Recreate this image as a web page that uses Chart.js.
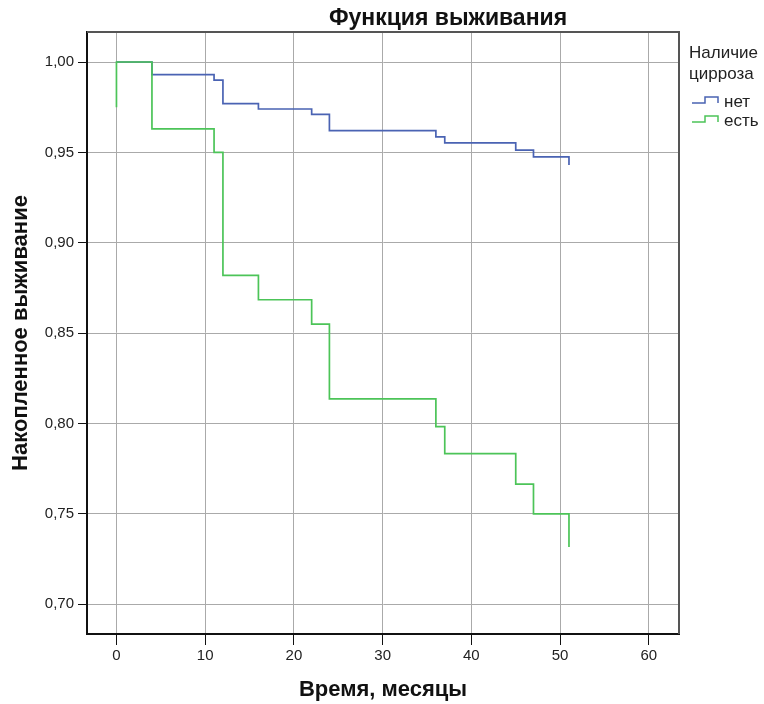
<!DOCTYPE html>
<html><head><meta charset="utf-8">
<script src="https://cdn.jsdelivr.net/npm/chart.js@4"></script>
<style>html,body{margin:0;padding:0;background:#fff}#wrap{width:764px;height:704px}</style>
</head><body><div id="wrap"><canvas id="c" width="764" height="704"></canvas></div>
<script>
// Kaplan–Meier survival, "нет" (no cirrhosis)
const timesNo = [0, 4, 11, 12, 16, 22, 24, 36, 37, 45, 47, 51];
const survNo  = [1.000, 0.993, 0.990, 0.977, 0.974, 0.971, 0.962, 0.9586, 0.9553, 0.9513, 0.9475, 0.943];
// "есть" (cirrhosis present)
const timesYes = [0, 0, 4, 11, 12, 16, 22, 24, 36, 37, 45, 47, 51, 51];
const survYes  = [0.975, 1.000, 0.963, 0.950, 0.882, 0.8685, 0.855, 0.8137, 0.7983, 0.7834, 0.7665, 0.750, 0.750, 0.7317];

const xTicks = [0, 10, 20, 30, 40, 50, 60];
const yTicks = [0.70, 0.75, 0.80, 0.85, 0.90, 0.95, 1.00];
const seriesNames = ['нет', 'есть'];
const legendTitle = ['Наличие', 'цирроза'];
const chartTitle = 'Функция выживания';
const xTitle = 'Время, месяцы';
const yTitle = 'Накопленное выживание';

const BLUE = '#4a63b3';
const GREEN = '#4cc458';
const FONT = "'Liberation Sans', Arial, sans-serif";

const toPts = (xs, ys) => xs.map((x, i) => ({x: x, y: ys[i]}));

const extras = {
  id: 'extras',
  afterDraw(chart) {
    const ctx = chart.ctx;
    const a = chart.chartArea;
    ctx.save();
    // top and right frame
    ctx.strokeStyle = '#555';
    ctx.lineWidth = 2;
    ctx.beginPath();
    ctx.moveTo(a.left, a.top);
    ctx.lineTo(a.right, a.top);
    ctx.lineTo(a.right, a.bottom);
    ctx.stroke();
    // title
    ctx.fillStyle = '#111';
    ctx.font = 'bold 23px ' + FONT;
    ctx.textAlign = 'center';
    ctx.textBaseline = 'alphabetic';
    ctx.fillText(chartTitle, 448, 25);
    // legend
    ctx.font = '17px ' + FONT;
    ctx.textAlign = 'left';
    ctx.fillStyle = '#222';
    ctx.fillText(legendTitle[0], 689, 58);
    ctx.fillText(legendTitle[1], 689, 79);
    const cols = [BLUE, GREEN];
    const ys = [102, 121];
    for (let i = 0; i < 2; i++) {
      const y = ys[i];
      ctx.strokeStyle = cols[i];
      ctx.lineWidth = 1.5;
      ctx.beginPath();
      ctx.moveTo(692, y + 1);
      ctx.lineTo(705, y + 1);
      ctx.lineTo(705, y - 5);
      ctx.lineTo(718, y - 5);
      ctx.lineTo(718, y + 1);
      ctx.stroke();
      ctx.fillStyle = '#222';
      ctx.fillText(seriesNames[i], 724, y + 5);
    }
    ctx.restore();
  }
};

new Chart(document.getElementById('c'), {
  type: 'line',
  data: {
    datasets: [
      { label: seriesNames[1], data: toPts(timesYes, survYes), borderColor: GREEN, borderWidth: 1.7, stepped: 'before', pointRadius: 0, fill: false, order: 0 },
      { label: seriesNames[0], data: toPts(timesNo, survNo), borderColor: BLUE, borderWidth: 1.7, stepped: 'before', pointRadius: 0, fill: false, order: 1 }
    ]
  },
  options: {
    responsive: false,
    animation: false,
    devicePixelRatio: 1,
    layout: { padding: { top: 32, right: 85, left: 0, bottom: 0 } },
    plugins: { legend: { display: false }, tooltip: { enabled: false }, title: { display: false } },
    scales: {
      x: {
        type: 'linear', min: -3.32, max: 63.4,
        afterBuildTicks: s => { s.ticks = xTicks.map(v => ({value: v})); },
        afterFit: s => { s.height = 70; },
        grid: { color: '#aaaaaa', lineWidth: 1, tickLength: 11, tickColor: '#111', drawTicks: true },
        border: { color: '#111', width: 2 },
        ticks: { font: { family: FONT, size: 15 }, color: '#222', padding: 2, maxRotation: 0, autoSkip: false, callback: v => String(v) },
        title: { display: true, text: xTitle, color: '#111', font: { family: FONT, size: 22, weight: 'bold' }, padding: { top: 0, bottom: 1 } }
      },
      y: {
        type: 'linear', min: 0.6836, max: 1.0166,
        afterBuildTicks: s => { s.ticks = yTicks.map(v => ({value: v})); },
        afterFit: s => { s.width = 87; },
        grid: { color: '#aaaaaa', lineWidth: 1, tickLength: 9, tickColor: '#111', drawTicks: true },
        border: { color: '#111', width: 2 },
        ticks: { font: { family: FONT, size: 15 }, color: '#222', padding: 4, autoSkip: false, callback: v => v.toFixed(2).replace('.', ',') },
        title: { display: true, text: yTitle, color: '#111', font: { family: FONT, size: 22, weight: 'bold' }, padding: { top: 8, bottom: 0 } }
      }
    }
  },
  plugins: [extras]
});
</script>
</body></html>
